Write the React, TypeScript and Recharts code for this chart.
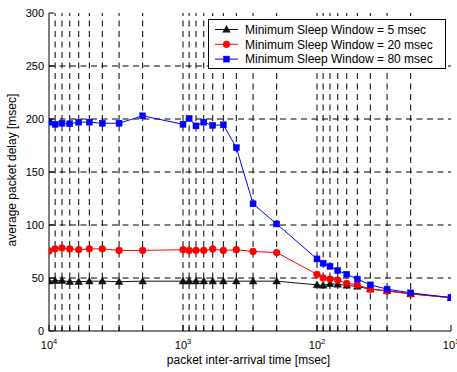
import React from 'react';
import { LineChart, Line, XAxis, YAxis, ReferenceLine, Legend } from 'recharts';

const interArrival = [10000, 9000, 8000, 7000, 6000, 5000, 4000, 3000, 2000, 1000, 900, 800, 700, 600, 500, 400, 300, 200, 100, 90, 80, 70, 60, 50, 40, 30, 20, 10];
const sleep5 = [47, 47.5, 47.5, 46.5, 46.5, 47, 47, 46.5, 47, 47, 47, 47, 47, 47, 47, 47, 47, 47, 43.5, 43, 44.5, 44, 43, 42, 39.5, 38, 35, 31.5];
const sleep20 = [75.5, 77.5, 78.3, 77.4, 76.7, 77.5, 77.5, 76, 76, 76.7, 76, 76, 76, 77.4, 76, 76.7, 75, 74, 53.5, 50, 49, 48, 45, 43.5, 39.5, 37.7, 35, 31.5];
const sleep80 = [197, 195, 196, 195.5, 197, 197, 196, 196, 203, 195, 200.5, 193.5, 197, 194, 194.5, 173, 120, 101, 68, 64, 61, 57, 53.5, 49, 43.5, 39.5, 36, 31.5];

const xTicks = [10, 20, 30, 40, 50, 60, 70, 80, 90, 100, 200, 300, 400, 500, 600, 700, 800, 900, 1000, 2000, 3000, 4000, 5000, 6000, 7000, 8000, 9000, 10000];
const xMajor = [10, 100, 1000, 10000];
const yTicks = [0, 50, 100, 150, 200, 250, 300];
const xGrid = xTicks.filter((v) => v !== 10 && v !== 10000);
const yGrid = [50, 100, 150, 200, 250];

const seriesNames = ['Minimum Sleep Window = 5 msec', 'Minimum Sleep Window = 20 msec', 'Minimum Sleep Window = 80 msec'];
const seriesColors = ['#111111', '#ff0000', '#0000ff'];

const data = interArrival.map((t, i) => ({ t, s5: sleep5[i], s20: sleep20[i], s80: sleep80[i] }));

const FONT = '"Liberation Sans", Arial, Helvetica, sans-serif';

const Marker = ({ kind, cx, cy, color }: any) => {
  if (cx == null || cy == null) return null;
  if (kind === 'tri') {
    return <polygon points={`${cx},${cy - 4} ${cx - 3.8},${cy + 2.8} ${cx + 3.8},${cy + 2.8}`} fill={color} stroke={color} strokeWidth={0.5} />;
  }
  if (kind === 'circ') {
    return <circle cx={cx} cy={cy} r={3.4} fill={color} stroke={color} strokeWidth={0.5} />;
  }
  return <rect x={cx - 3} y={cy - 3} width={6} height={6} fill={color} stroke={color} strokeWidth={0.5} />;
};

const dotFor = (kind: string, color: string) => (p: any) => (
  <Marker key={`${kind}-${p.index}`} kind={kind} cx={p.cx} cy={p.cy} color={color} />
);

const BottomTick = (props: any) => {
  const { x, y, payload } = props;
  const v = payload.value;
  const major = xMajor.includes(v);
  const exp = Math.round(Math.log10(v));
  return (
    <g>
      <line x1={x} x2={x} y1={y} y2={y - (major ? 6 : 4)} stroke="#000" strokeWidth={1} />
      {major && (
        <text x={x} y={y + 18} textAnchor="middle" fontSize={11} fontFamily={FONT} fill="#000">
          <tspan>10</tspan>
          <tspan dy={-5} fontSize={7.5}>{exp}</tspan>
        </text>
      )}
    </g>
  );
};

const TopTick = (props: any) => {
  const { x, y, payload } = props;
  const major = xMajor.includes(payload.value);
  return <line x1={x} x2={x} y1={y} y2={y + (major ? 6 : 4)} stroke="#000" strokeWidth={1} />;
};

const LeftTick = (props: any) => {
  const { x, y, payload } = props;
  return (
    <g>
      <line x1={x} x2={x + 5} y1={y} y2={y} stroke="#000" strokeWidth={1} />
      <text x={x - 5} y={y + 4} textAnchor="end" fontSize={11} fontFamily={FONT} fill="#000">
        {payload.value}
      </text>
    </g>
  );
};

const RightTick = (props: any) => {
  const { x, y } = props;
  return <line x1={x} x2={x - 5} y1={y} y2={y} stroke="#000" strokeWidth={1} />;
};

const LegendBox = () => {
  const kinds = ['tri', 'circ', 'sq'];
  return (
    <svg width={238} height={50} style={{ display: 'block' }}>
      <rect x={0.5} y={0.5} width={237} height={49} fill="#fff" stroke="#000" strokeWidth={1} />
      {seriesNames.map((name, i) => {
        const cy = 10.5 + i * 14.8;
        return (
          <g key={name}>
            <line x1={7} x2={30} y1={cy} y2={cy} stroke={seriesColors[i]} strokeWidth={1} />
            <Marker kind={kinds[i]} cx={18.5} cy={cy} color={seriesColors[i]} />
            <text x={37} y={cy + 4.2} fontSize={12} fontFamily={FONT} fill="#000">{name}</text>
          </g>
        );
      })}
    </svg>
  );
};

export default function App() {
  return (
    <div style={{ position: 'absolute', left: 0, top: 0, background: '#fff' }}>
      <LineChart width={457} height={372} data={data} margin={{ top: 13, right: 6, left: 0, bottom: 0 }}>
        {xGrid.map((v) => (
          <ReferenceLine key={`gx${v}`} x={v} stroke="#000" strokeWidth={1} strokeDasharray="6 4.5" ifOverflow="visible" />
        ))}
        {yGrid.map((v) => (
          <ReferenceLine key={`gy${v}`} y={v} stroke="#000" strokeWidth={1} strokeDasharray="6 4.5" ifOverflow="visible" />
        ))}
        <XAxis
          dataKey="t"
          type="number"
          scale="log"
          domain={[10, 10000]}
          reversed
          allowDataOverflow
          ticks={xTicks}
          interval={0}
          tickSize={0}
          tickMargin={0}
          tickLine={false}
          axisLine={{ stroke: '#000', strokeWidth: 1 }}
          tick={<BottomTick />}
          height={41}
          label={{
            content: (p: any) => {
              const vb = p.viewBox;
              return (
                <text x={vb.x + vb.width / 2 - 1.5} y={vb.y + 33} textAnchor="middle" fontSize={12} fontFamily={FONT} fill="#000">
                  packet inter-arrival time [msec]
                </text>
              );
            },
          }}
        />
        <XAxis
          xAxisId="top"
          orientation="top"
          type="number"
          scale="log"
          domain={[10, 10000]}
          reversed
          allowDataOverflow
          ticks={xTicks}
          interval={0}
          tickSize={0}
          tickMargin={0}
          tickLine={false}
          axisLine={{ stroke: '#000', strokeWidth: 1 }}
          tick={<TopTick />}
          height={0}
        />
        <YAxis
          type="number"
          domain={[0, 300]}
          ticks={yTicks}
          interval={0}
          tickSize={0}
          tickMargin={0}
          tickLine={false}
          axisLine={{ stroke: '#000', strokeWidth: 1 }}
          tick={<LeftTick />}
          width={49}
          label={{
            content: (p: any) => {
              const vb = p.viewBox;
              const cx = vb.x + 16;
              const cy = vb.y + vb.height / 2 - 2;
              return (
                <text x={cx} y={cy} transform={`rotate(-90 ${cx} ${cy})`} textAnchor="middle" fontSize={12} fontFamily={FONT} fill="#000">
                  average packet delay [msec]
                </text>
              );
            },
          }}
        />
        <YAxis
          yAxisId="right"
          orientation="right"
          type="number"
          domain={[0, 300]}
          ticks={yTicks}
          interval={0}
          tickSize={0}
          tickMargin={0}
          tickLine={false}
          axisLine={{ stroke: '#000', strokeWidth: 1 }}
          tick={<RightTick />}
          width={0}
        />
        <Line dataKey="s5" name={seriesNames[0]} stroke={seriesColors[0]} strokeWidth={1} dot={dotFor('tri', seriesColors[0])} isAnimationActive={false} />
        <Line dataKey="s20" name={seriesNames[1]} stroke={seriesColors[1]} strokeWidth={1} dot={dotFor('circ', seriesColors[1])} isAnimationActive={false} />
        <Line dataKey="s80" name={seriesNames[2]} stroke={seriesColors[2]} strokeWidth={1} dot={dotFor('sq', seriesColors[2])} isAnimationActive={false} />
        <Legend
          layout="vertical"
          align="center"
          verticalAlign="middle"
          content={<LegendBox />}
          wrapperStyle={{ position: 'absolute', left: 208, top: 19, width: 238, height: 50 }}
        />
      </LineChart>
    </div>
  );
}
